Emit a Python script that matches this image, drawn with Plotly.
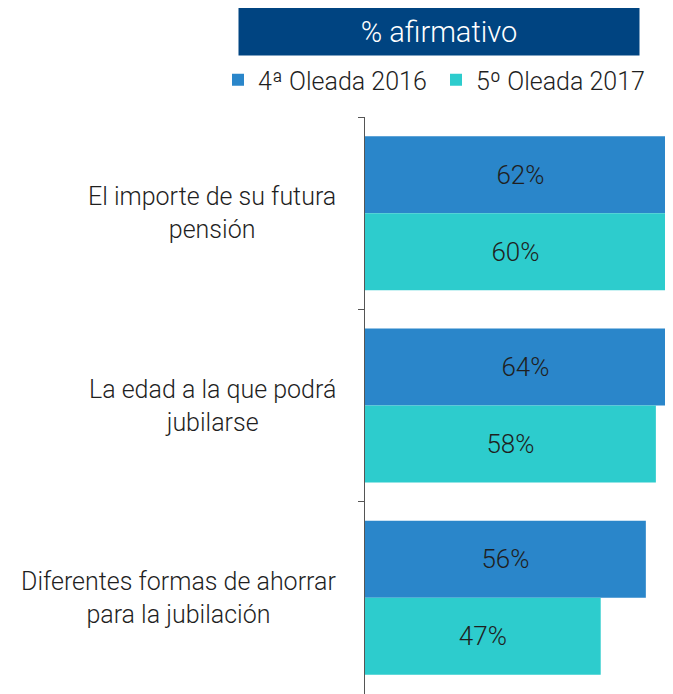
import plotly.graph_objects as go

categories = ["El importe de su futura<br>pensión",
              "La edad a la que podrá<br>jubilarse",
              "Diferentes formas de ahorrar<br>para la jubilación"]
series_names = ["4ª Oleada 2016", "5º Oleada 2017"]
values_2016 = [62, 64, 56]
values_2017 = [60, 58, 47]
header_text = "% afirmativo"

C_BLUE = "#2A86CA"
C_AQUA = "#2DCCCD"
C_NAVY = "#004481"
FONT = "Roboto"
TXT = "#1f1f1f"

OFF = 8  # default page body margin
W, H = 673 - OFF, 694 - OFF
ML, MR, MT, MB = 365 - OFF, 0, 117 - OFF, 0
PW = W - ML - MR
PH = H - MT - MB
px_per_pct = 5.015
xmax = PW / px_per_pct
cat_h = PH / len(categories)
bar_gap = 1 - 154 / cat_h

def px2paper_x(px):  # px in window coordinates
    return (px - OFF - ML) / PW

def px2paper_y(py):
    return 1 + (MT - (py - OFF)) / PH

fig = go.Figure()
for name, vals, col in [(series_names[0], values_2016, C_BLUE),
                        (series_names[1], values_2017, C_AQUA)]:
    fig.add_trace(go.Bar(
        y=categories, x=vals, name=name, orientation="h",
        marker=dict(color=col, line=dict(width=0)),
        text=[f"{v}%" for v in vals],
        textposition="inside", insidetextanchor="middle",
        textangle=0, constraintext="none",
        textfont=dict(family=FONT, size=26, color=TXT, weight=300),
    ))

# category labels as centered multi-line annotations
for c in categories:
    fig.add_annotation(
        x=px2paper_x(338), xref="paper", y=c, yref="y",
        text=c, showarrow=False, xanchor="right", yanchor="middle",
        align="center", font=dict(family=FONT, size=25, color=TXT, weight=300),
    )

# header box
fig.add_annotation(
    x=px2paper_x(439), xref="paper", y=px2paper_y(31.5), yref="paper",
    text=header_text, showarrow=False, xanchor="center", yanchor="middle",
    width=400, height=47, bgcolor=C_NAVY, borderpad=0,
    font=dict(family=FONT, size=29, color="white", weight=300),
)

fig.update_layout(
    width=W, height=H,
    margin=dict(l=ML, r=MR, t=MT, b=MB, pad=0, autoexpand=False),
    paper_bgcolor="white", plot_bgcolor="white",
    barmode="group", bargap=bar_gap, bargroupgap=0,
    font=dict(family=FONT, color=TXT),
    showlegend=True,
    legend=dict(orientation="h", x=px2paper_x(218), xanchor="left",
                y=px2paper_y(80), yanchor="middle",
                font=dict(family=FONT, size=25, color=TXT, weight=300),
                itemwidth=30, entrywidth=173, entrywidthmode="pixels",
                tracegroupgap=0, bgcolor="rgba(0,0,0,0)"),
    xaxis=dict(range=[0, xmax], visible=False, fixedrange=True),
    yaxis=dict(autorange="reversed", showticklabels=False,
               showline=True, linecolor="#555555", linewidth=1,
               ticks="outside", tickson="boundaries", ticklen=6,
               tickcolor="#555555", showgrid=False, zeroline=False),
)

fig.write_html("out.html")
